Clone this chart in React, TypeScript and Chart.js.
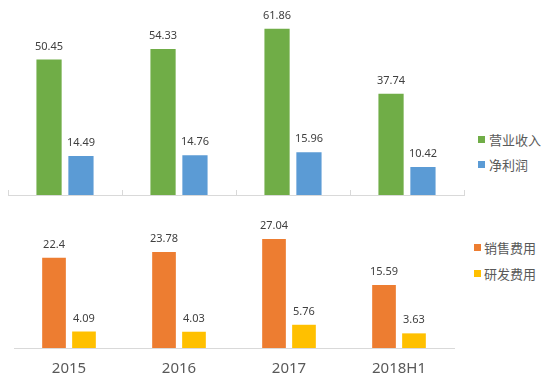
import React, { useEffect, useRef } from "react";
import { Chart, registerables } from "chart.js";

Chart.register(...registerables);

const categories = ["2015", "2016", "2017", "2018H1"];
const revenue = [50.45, 54.33, 61.86, 37.74];
const netProfit = [14.49, 14.76, 15.96, 10.42];
const salesExpense = [22.4, 23.78, 27.04, 15.59];
const rdExpense = [4.09, 4.03, 5.76, 3.63];

const GREEN = "#70AD47";
const BLUE = "#5B9BD5";
const ORANGE = "#ED7D31";
const YELLOW = "#FFC000";
const AXIS = "#d9d9d9";
const TEXT = "#595959";
const FONT = "'Noto Sans', 'Noto Sans CJK SC', sans-serif";

const valueLabels = {
  id: "valueLabels",
  afterDatasetsDraw(chart: any) {
    const ctx = chart.ctx;
    ctx.save();
    ctx.font = `11px ${FONT}`;
    ctx.fillStyle = "#404040";
    ctx.textAlign = "center";
    ctx.textBaseline = "middle";
    chart.data.datasets.forEach((ds: any, di: number) => {
      const meta = chart.getDatasetMeta(di);
      meta.data.forEach((el: any, i: number) => {
        ctx.fillText(String(ds.data[i]), el.x, el.y - 13);
      });
    });
    ctx.restore();
  },
};

const upTicks = {
  id: "upTicks",
  afterDraw(chart: any) {
    if (!chart.options.plugins.upTicks?.enabled) return;
    const x = chart.scales.x;
    const n = chart.data.labels.length;
    const ctx = chart.ctx;
    const bottom = chart.chartArea.bottom;
    ctx.save();
    ctx.strokeStyle = AXIS;
    ctx.lineWidth = 1;
    for (let i = 0; i <= n; i++) {
      const px = Math.round(x.left + (i * x.width) / n) + 0.5;
      ctx.beginPath();
      ctx.moveTo(px, bottom - 5);
      ctx.lineTo(px, bottom);
      ctx.stroke();
    }
    ctx.restore();
  },
};

function makeConfig(
  sets: { label: string; data: number[]; color: string }[],
  yMax: number,
  showLabels: boolean,
  padding: any,
  catPct: number,
  ticksUp: boolean
): any {
  return {
    type: "bar",
    data: {
      labels: categories,
      datasets: sets.map((s) => ({
        label: s.label,
        data: s.data,
        backgroundColor: s.color,
        borderWidth: 0,
        categoryPercentage: catPct,
        barPercentage: 0.79,
      })),
    },
    options: {
      responsive: false,
      animation: false,
      layout: { padding },
      plugins: {
        legend: { display: false },
        tooltip: { enabled: false },
        upTicks: { enabled: ticksUp },
      },
      scales: {
        x: {
          grid: { display: false, drawTicks: false },
          border: { display: true, color: AXIS, width: 1 },
          ticks: {
            display: showLabels,
            color: TEXT,
            font: { family: FONT, size: 15 },
            padding: 12,
          },
        },
        y: { display: false, min: 0, max: yMax },
      },
    },
    plugins: [valueLabels, upTicks],
  };
}

function LegendItem({ color, label, x, y, boxX }: any) {
  return (
    <div
      style={{
        position: "absolute",
        left: boxX,
        top: y - 9,
        height: 18,
        display: "flex",
        alignItems: "center",
        fontFamily: "'Noto Sans CJK SC', sans-serif",
        fontSize: 13,
        color: TEXT,
        whiteSpace: "nowrap",
      }}
    >
      <span style={{ display: "inline-block", width: 7, height: 7, background: color, marginRight: x - boxX - 7 }} />
      <span>{label}</span>
    </div>
  );
}

export default function App() {
  const topRef = useRef<HTMLCanvasElement>(null);
  const botRef = useRef<HTMLCanvasElement>(null);

  useEffect(() => {
    document.body.style.margin = "0";
    const top = new Chart(
      topRef.current!,
      makeConfig(
        [
          { label: "营业收入", data: revenue, color: GREEN },
          { label: "净利润", data: netProfit, color: BLUE },
        ],
        70,
        false,
        { left: 8, right: 6, top: 7, bottom: 5 },
        0.56,
        true
      )
    );
    const bot = new Chart(
      botRef.current!,
      makeConfig(
        [
          { label: "销售费用", data: salesExpense, color: ORANGE },
          { label: "研发费用", data: rdExpense, color: YELLOW },
        ],
        30,
        true,
        { left: 14, right: 6, top: 22, bottom: 0 },
        0.545,
        false
      )
    );
    return () => {
      top.destroy();
      bot.destroy();
    };
  }, []);

  return (
    <div style={{ position: "relative", width: 548, height: 390, background: "#fff", overflow: "hidden" }}>
      <canvas ref={topRef} width={470} height={200} style={{ position: "absolute", left: 0, top: 0 }} />
      <canvas ref={botRef} width={460} height={185} style={{ position: "absolute", left: 0, top: 205 }} />
      <LegendItem color={GREEN} label="营业收入" boxX={478} x={489} y={139} />
      <LegendItem color={BLUE} label="净利润" boxX={478} x={489} y={164} />
      <LegendItem color={ORANGE} label="销售费用" boxX={474} x={484} y={247} />
      <LegendItem color={YELLOW} label="研发费用" boxX={474} x={484} y={273} />
    </div>
  );
}
